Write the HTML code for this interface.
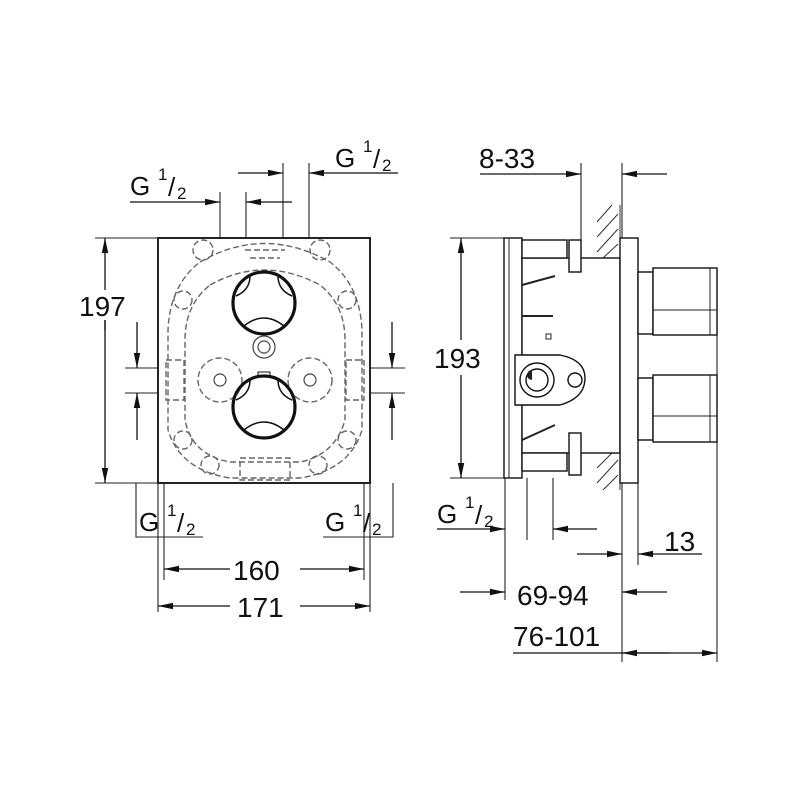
<!DOCTYPE html>
<html><head><meta charset="utf-8"><style>html,body{margin:0;padding:0;background:#fff}svg{display:block}</style></head>
<body>
<svg width="800" height="800" viewBox="0 0 800 800" xmlns="http://www.w3.org/2000/svg">
<defs>
<marker id="a" viewBox="0 0 14 6" refX="14" refY="3" markerWidth="15" markerHeight="7" markerUnits="userSpaceOnUse" orient="auto"><path d="M0,0 L14,3 L0,6 Z" fill="#111"/></marker>
</defs>
<g font-family="Liberation Sans, sans-serif" fill="#111">
<!-- LEFT VIEW -->
<g stroke="#222" stroke-width="1.1" fill="none">
<line x1="95" y1="238" x2="158" y2="238"/><line x1="95" y1="483" x2="158" y2="483"/>
<line x1="220" y1="192" x2="220" y2="238"/><line x1="246" y1="192" x2="246" y2="238"/>
<line x1="283" y1="163" x2="283" y2="238"/><line x1="309" y1="163" x2="309" y2="238"/>
<line x1="125" y1="368" x2="165" y2="368"/><line x1="125" y1="393" x2="165" y2="393"/>
<line x1="365" y1="368" x2="405" y2="368"/><line x1="365" y1="393" x2="405" y2="393"/>
<line x1="158" y1="483" x2="158" y2="612"/><line x1="164" y1="483" x2="164" y2="580"/>
<line x1="364" y1="483" x2="364" y2="580"/><line x1="370" y1="483" x2="370" y2="612"/>
<polyline points="136,483 136,537 203,537"/><polyline points="323,537 393,537 393,483"/>
</g>
<g stroke="#111" stroke-width="1.3">
<line x1="105" y1="330" x2="105" y2="238" marker-end="url(#a)"/><line x1="105" y1="320" x2="105" y2="483" marker-end="url(#a)"/>
<line x1="130" y1="202" x2="220" y2="202" marker-end="url(#a)"/><line x1="292" y1="202" x2="246" y2="202" marker-end="url(#a)"/>
<line x1="238" y1="173" x2="283" y2="173" marker-end="url(#a)"/><line x1="398" y1="173" x2="309" y2="173" marker-end="url(#a)"/>
<line x1="137" y1="322" x2="137" y2="368" marker-end="url(#a)"/><line x1="137" y1="440" x2="137" y2="393" marker-end="url(#a)"/>
<line x1="392" y1="322" x2="392" y2="368" marker-end="url(#a)"/><line x1="392" y1="440" x2="392" y2="393" marker-end="url(#a)"/>
<line x1="230" y1="569" x2="164" y2="569" marker-end="url(#a)"/><line x1="300" y1="569" x2="364" y2="569" marker-end="url(#a)"/>
<line x1="230" y1="606" x2="158" y2="606" marker-end="url(#a)"/><line x1="300" y1="606" x2="370" y2="606" marker-end="url(#a)"/>
</g>
<rect x="94" y="290" width="40" height="30" fill="#fff"/>
<rect x="158" y="238" width="212" height="245" fill="#fff" stroke="#222" stroke-width="2"/>
<g stroke="#666" stroke-width="1.4" fill="none" stroke-dasharray="6,3">
<path d="M200,262 Q264,225 330,262 Q360,285 362,330 L362,430 Q350,470 300,478 L230,478 Q180,470 168,430 L168,330 Q170,285 200,262 Z"/>
<path d="M210,285 Q264,255 320,285 Q345,305 345,340 L345,420 Q335,455 300,462 L230,462 Q192,455 185,420 L185,340 Q185,305 210,285 Z"/>
<circle cx="220" cy="380" r="22"/><circle cx="310" cy="380" r="22"/>
<rect x="240" y="458" width="50" height="22"/>
<rect x="166" y="360" width="18" height="40"/><rect x="346" y="360" width="18" height="40"/>
<circle cx="203" cy="250" r="10"/><circle cx="320" cy="250" r="10"/>
<circle cx="183" cy="300" r="9"/><circle cx="347" cy="300" r="9"/>
<circle cx="183" cy="440" r="9"/><circle cx="347" cy="440" r="9"/>
<circle cx="210" cy="465" r="9"/><circle cx="318" cy="465" r="9"/>
<path d="M245,250 L285,250 M250,258 L280,258"/>
</g>
<g stroke="#444" stroke-width="1.2" fill="none">
<circle cx="220" cy="380" r="6"/><circle cx="310" cy="380" r="6"/>
<circle cx="264" cy="347" r="11"/><circle cx="264" cy="347" r="6"/>
</g>
<g stroke="#111" fill="none">
<circle cx="264" cy="303" r="31" stroke-width="3.2"/>
<path d="M236,296 Q250,290 250,276 M292,296 Q278,290 278,276 M244,326 Q264,310 284,326" stroke-width="1.5"/>
<circle cx="264" cy="407" r="31" stroke-width="3.2"/>
<path d="M236,400 Q250,394 250,380 M292,400 Q278,394 278,380 M244,430 Q264,414 284,430" stroke-width="1.5"/>
<rect x="258" y="372" width="12" height="5" stroke-width="1"/>
</g>
<g font-size="28">
<text x="79" y="316">197</text>
<text x="233" y="580">160</text>
<text x="237" y="617">171</text>
</g>
<g font-size="26">
<text x="130" y="195">G</text><text x="158" y="180" font-size="17">1</text><text x="168" y="196">/</text><text x="177" y="199" font-size="17">2</text>
<text x="335" y="167">G</text><text x="363" y="152" font-size="17">1</text><text x="373" y="168">/</text><text x="382" y="171" font-size="17">2</text>
<text x="139" y="531">G</text><text x="167" y="516" font-size="17">1</text><text x="177" y="532">/</text><text x="186" y="535" font-size="17">2</text>
<text x="325" y="531">G</text><text x="353" y="516" font-size="17">1</text><text x="363" y="532">/</text><text x="372" y="535" font-size="17">2</text>
</g>

<!-- RIGHT VIEW -->
<g stroke="#222" stroke-width="1.1" fill="none">
<line x1="450" y1="238" x2="505" y2="238"/><line x1="450" y1="478" x2="505" y2="478"/>
<line x1="581" y1="163" x2="581" y2="240"/>
<line x1="622" y1="163" x2="622" y2="662"/>
<line x1="717" y1="268" x2="717" y2="662"/>
<line x1="505" y1="478" x2="505" y2="600"/>
<line x1="527" y1="478" x2="527" y2="540"/><line x1="553" y1="478" x2="553" y2="540"/>
<line x1="638" y1="483" x2="638" y2="565"/>
</g>
<g stroke="#111" stroke-width="1.3">
<line x1="461" y1="340" x2="461" y2="238" marker-end="url(#a)"/><line x1="461" y1="375" x2="461" y2="478" marker-end="url(#a)"/>
<line x1="480" y1="174" x2="581" y2="174" marker-end="url(#a)"/><line x1="667" y1="174" x2="622" y2="174" marker-end="url(#a)"/>
<line x1="437" y1="529" x2="505" y2="529" marker-end="url(#a)"/><line x1="597" y1="529" x2="553" y2="529" marker-end="url(#a)"/>
<line x1="577" y1="554" x2="622" y2="554" marker-end="url(#a)"/><line x1="702" y1="554" x2="638" y2="554" marker-end="url(#a)"/>
<line x1="460" y1="592" x2="505" y2="592" marker-end="url(#a)"/><line x1="667" y1="592" x2="622" y2="592" marker-end="url(#a)"/>
<line x1="513" y1="653" x2="670" y2="653"/>
<line x1="670" y1="653" x2="622" y2="653" marker-end="url(#a)"/><line x1="670" y1="653" x2="717" y2="653" marker-end="url(#a)"/>
</g>
<rect x="434" y="340" width="58" height="35" fill="#fff"/>
<g stroke="#333" stroke-width="1">
<line x1="620" y1="205" x2="620" y2="258"/><line x1="620" y1="453" x2="620" y2="490"/>
<path d="M597,222 L612,205 M597,237 L618,214 M597,252 L618,229 M603,258 L618,244 M597,468 L612,453 M597,483 L618,460 M603,490 L618,475"/>
</g>
<g stroke="#111" stroke-width="1.4" fill="#fff">
<rect x="504" y="238" width="18" height="240"/>
<rect x="522" y="258" width="98" height="195"/>
<rect x="620" y="238" width="18" height="245"/>
<rect x="522" y="240" width="45" height="18"/><rect x="522" y="453" width="45" height="18"/>
<rect x="569" y="240" width="12" height="32"/><rect x="569" y="433" width="12" height="42"/>
<rect x="638" y="272" width="15" height="62"/><rect x="653" y="268" width="64" height="67"/>
<rect x="638" y="378" width="15" height="62"/><rect x="653" y="375" width="64" height="67"/>
<path d="M515,355 L560,355 Q585,360 585,378 Q585,398 560,405 L515,405 Z"/>
<circle cx="537" cy="380" r="17"/><circle cx="537" cy="380" r="11"/>
<circle cx="575" cy="380" r="7"/>
</g>
<g stroke="#222" stroke-width="1" fill="none">
<line x1="509" y1="238" x2="509" y2="478"/><line x1="653" y1="310" x2="717" y2="310"/><line x1="653" y1="416" x2="717" y2="416"/>
<line x1="710" y1="268" x2="710" y2="335"/><line x1="710" y1="375" x2="710" y2="442"/>
<path d="M522,285 L555,276 M522,440 L555,425 M522,316 L553,316" stroke-width="2"/>
<rect x="546" y="334" width="5" height="5"/>
</g>
<path d="M532,380 a5,5 0 0 1 0,-10 Z" fill="#222"/>
<g font-size="28">
<text x="434" y="368">193</text>
<text x="479" y="168">8-33</text>
<text x="664" y="551">13</text>
<text x="517" y="605">69-94</text>
<text x="513" y="646">76-101</text>
</g>
<g font-size="26">
<text x="437" y="523">G</text><text x="465" y="508" font-size="17">1</text><text x="475" y="524">/</text><text x="484" y="527" font-size="17">2</text>
</g>
</g>
</svg>
</body></html>
